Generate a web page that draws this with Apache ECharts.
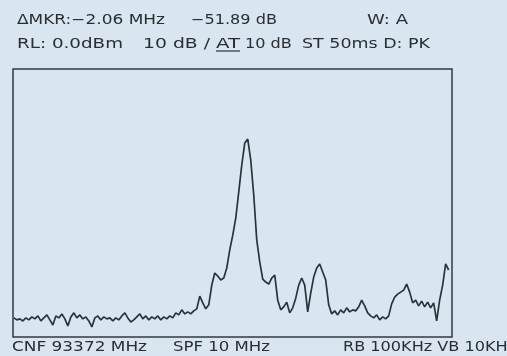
<!DOCTYPE html>
<html>
<head>
<meta charset="utf-8">
<script src="https://cdn.jsdelivr.net/npm/echarts@6/dist/echarts.min.js"></script>
<style>
  html, body { margin: 0; padding: 0; background: #d9e6f1; }
  #chart { width: 507px; height: 356px; }
</style>
</head>
<body>
<div id="chart"></div>
<script>
// Spectrum trace amplitude (dB, reference level 0 dBm, 10 dB/div)
const trace = [
  -74.3,-74.9,-74.6,-75.2,-74.3,-74.9,-74.0,-74.6,-73.7,-75.2,
  -74.3,-73.4,-74.9,-76.4,-73.7,-74.3,-73.1,-74.6,-76.7,-74.0,
  -72.8,-74.3,-73.4,-74.6,-74.0,-75.2,-77.0,-74.3,-73.7,-74.9,
  -74.0,-74.6,-74.3,-75.2,-74.3,-74.9,-73.7,-72.8,-74.3,-75.5,
  -74.9,-74.0,-73.1,-74.6,-73.7,-74.9,-74.0,-74.6,-73.7,-74.9,
  -74.0,-74.6,-73.7,-74.3,-72.8,-73.4,-71.9,-73.1,-72.5,-73.1,
  -72.2,-71.6,-67.8,-69.8,-71.6,-70.4,-64.5,-60.9,-61.8,-63.0,
  -62.4,-59.4,-54.0,-49.6,-44.5,-36.7,-28.7,-22.1,-20.9,-27.2,
  -37.6,-51.0,-57.6,-62.7,-63.6,-64.2,-62.4,-61.5,-69.0,-71.9,
  -71.0,-69.6,-72.8,-71.3,-68.4,-64.5,-62.4,-64.5,-72.5,-66.9,
  -62.1,-59.4,-58.2,-60.6,-63.0,-70.4,-73.1,-72.2,-73.4,-71.9,
  -72.8,-71.3,-72.5,-71.9,-72.2,-71.0,-69.0,-70.7,-72.8,-73.7,
  -74.3,-73.4,-74.9,-74.0,-74.6,-73.7,-70.1,-68.1,-67.2,-66.6,
  -66.0,-64.2,-66.6,-69.8,-69.0,-70.7,-69.3,-71.0,-69.6,-71.3,
  -69.8,-75.2,-69.0,-64.5,-58.2,-60.0
];
const freqStart = 928.74;   // MHz, first sweep point
const freqStep = 0.0683;    // MHz per sweep point
const freqMin = 928.72;
const freqMax = 938.72;
const refLevel = 0;
const bottomLevel = -80;

const headerLine1 = ['ΔMKR:−2.06 MHz', '−51.89 dB', 'W: A'];
const headerLine2 = ['RL: 0.0dBm', '10 dB /', 'AT', '10 dB', 'ST 50ms D: PK'];
const footerLine = ['CNF 93372 MHz', 'SPF 10 MHz', 'RB 100KHz VB 10KH'];

const seriesData = trace.map((v, i) => [freqStart + i * freqStep, v]);

const ctx = document.createElement('canvas').getContext('2d');
function txt(s, left, right, cy, size) {
  const font = size + 'px "DejaVu Sans"';
  ctx.font = font;
  const w = ctx.measureText(s).width;
  const sx = Math.max(1.15, (right - left) / w);
  return {
    type: 'text', x: left, y: cy, scaleX: sx,
    style: { text: s, font: font, fill: '#2a2e34', textAlign: 'left', textVerticalAlign: 'middle', align: 'left', verticalAlign: 'middle' }
  };
}

const graphic = [
  txt(headerLine1[0], 17, 165, 20, 14),
  txt(headerLine1[1], 191, 272, 20, 14),
  txt(headerLine1[2], 367, 408, 20, 14),
  txt(headerLine2[0], 17, 123, 44, 14),
  txt(headerLine2[1], 143, 210, 44, 14),
  txt(headerLine2[2], 216, 240, 44, 14),
  txt(headerLine2[3], 245, 287, 44, 14),
  txt(headerLine2[4], 302, 430, 44, 14),
  { type: 'line', shape: { x1: 216, y1: 51, x2: 240, y2: 51 }, style: { stroke: '#2a2e34', lineWidth: 1.2 } },
  txt(footerLine[0], 12, 147, 347, 14),
  txt(footerLine[1], 173, 270, 347, 14),
  txt(footerLine[2], 343, 502, 347, 14)
];

const chart = echarts.init(document.getElementById('chart'), null, { renderer: 'canvas' });
chart.setOption({
  animation: false,
  backgroundColor: '#d9e6f1',
  grid: { left: 13, top: 69, right: 55, bottom: 19, show: true, borderColor: '#33383e', borderWidth: 1.5, backgroundColor: 'transparent' },
  xAxis: { type: 'value', min: freqMin, max: freqMax, show: false },
  yAxis: { type: 'value', min: bottomLevel, max: refLevel, show: false },
  series: [{
    type: 'line', data: seriesData, showSymbol: false, symbol: 'none',
    lineStyle: { color: '#2a333b', width: 1.7 }
  }],
  graphic: graphic
});
</script>
</body>
</html>
